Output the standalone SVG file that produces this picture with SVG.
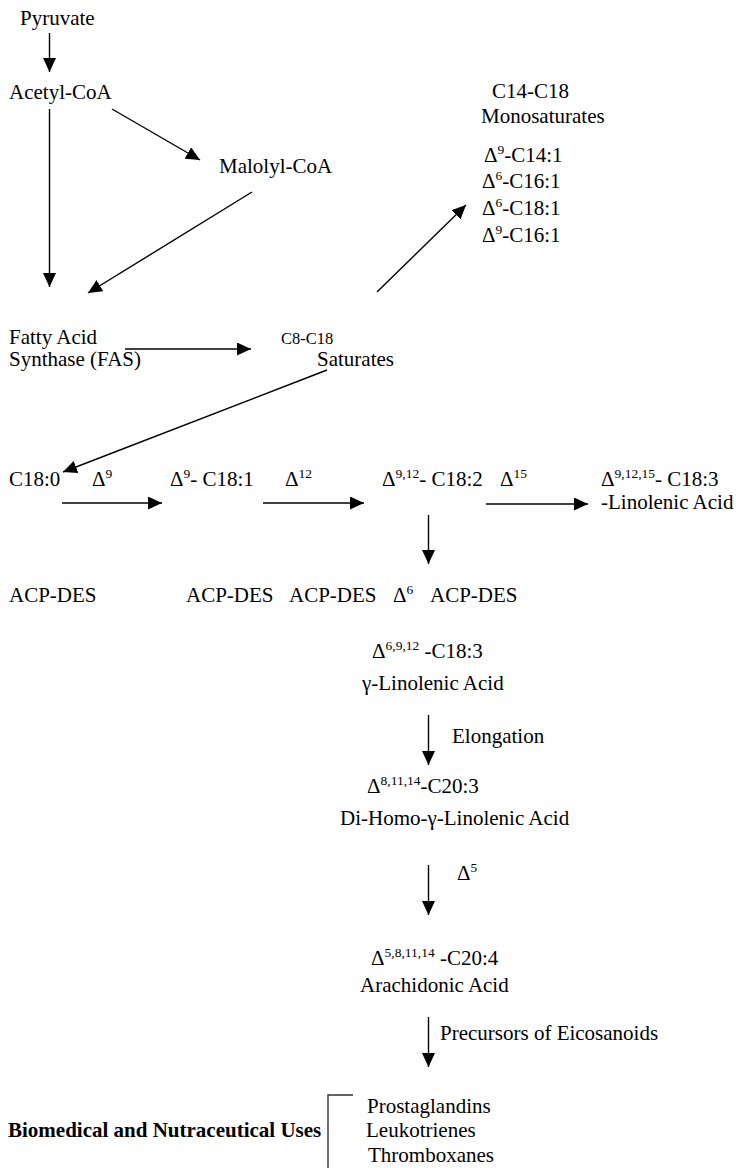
<svg xmlns="http://www.w3.org/2000/svg" width="736" height="1168" viewBox="0 0 736 1168">
<style>
text{font-family:'Liberation Serif','Times New Roman','DejaVu Serif',serif;font-size:21px;fill:#000}
.sm{font-size:16.5px}
.b{font-weight:bold}
.sup{font-size:13.5px}
.c line{stroke:#000;stroke-width:1.4;marker-end:url(#ah)}
.br{stroke:#333;stroke-width:1.4;fill:none}
</style>
<defs>
<marker id="ah" viewBox="0 0 14 13" refX="14" refY="6.5" markerWidth="14" markerHeight="13" markerUnits="userSpaceOnUse" orient="auto">
<path d="M0,0 L14,6.5 L0,13 z" fill="#000"/>
</marker>
</defs>
<rect width="736" height="1168" fill="#fff"/>
<g id="connectors" class="c">
<line x1="49.5" y1="33" x2="49.5" y2="72"/>
<line x1="112" y1="109" x2="200" y2="160"/>
<line x1="49.5" y1="109" x2="49.5" y2="287"/>
<line x1="252" y1="192" x2="88" y2="293"/>
<line x1="125" y1="349" x2="251" y2="349"/>
<line x1="377" y1="292" x2="466" y2="205"/>
<line x1="327" y1="370" x2="63" y2="472"/>
<line x1="62" y1="503" x2="162" y2="503"/>
<line x1="263" y1="503" x2="364" y2="503"/>
<line x1="486" y1="504" x2="588" y2="504"/>
<line x1="428.5" y1="515" x2="428.5" y2="564"/>
<line x1="428.5" y1="715" x2="428.5" y2="765"/>
<line x1="428.5" y1="865" x2="428.5" y2="915"/>
<line x1="428.5" y1="1017" x2="428.5" y2="1067"/>
</g>
<g font-family="Liberation Serif, serif">
<g id="pyruvate"><text x="20" y="25">Pyruvate</text></g>
<g id="acetyl-coa"><text x="9" y="99">Acetyl-CoA</text></g>
<g id="malolyl-coa"><text x="219" y="173">Malolyl-CoA</text></g>
<g id="monosaturates">
<text x="492" y="98">C14-C18</text>
<text x="481" y="123">Monosaturates</text>
<text x="484" y="162">Δ<tspan class="sup" dy="-8">9</tspan><tspan dy="8">-C14:1</tspan></text>
<text x="482" y="188">Δ<tspan class="sup" dy="-8">6</tspan><tspan dy="8">-C16:1</tspan></text>
<text x="482" y="215">Δ<tspan class="sup" dy="-8">6</tspan><tspan dy="8">-C18:1</tspan></text>
<text x="482" y="242">Δ<tspan class="sup" dy="-8">9</tspan><tspan dy="8">-C16:1</tspan></text>
</g>
<g id="fas">
<text x="9" y="344">Fatty Acid</text>
<text x="9" y="366">Synthase (FAS)</text>
</g>
<g id="saturates">
<text class="sm" x="281" y="344">C8-C18</text>
<text x="317" y="366">Saturates</text>
</g>
<g id="c18-0"><text x="9" y="486">C18:0</text></g>
<g id="d9-label"><text x="92" y="486">Δ<tspan class="sup" dy="-8">9</tspan></text></g>
<g id="c18-1"><text x="170" y="486">Δ<tspan class="sup" dy="-8">9</tspan><tspan dy="8">- C18:1</tspan></text></g>
<g id="d12-label"><text x="285" y="486">Δ<tspan class="sup" dy="-8">12</tspan></text></g>
<g id="c18-2"><text x="382" y="486">Δ<tspan class="sup" dy="-8">9,12</tspan><tspan dy="8">- C18:2</tspan></text></g>
<g id="d15-label"><text x="500" y="486">Δ<tspan class="sup" dy="-8">15</tspan></text></g>
<g id="c18-3">
<text x="601" y="486">Δ<tspan class="sup" dy="-8">9,12,15</tspan><tspan dy="8">- C18:3</tspan></text>
<text x="601" y="509">-Linolenic Acid</text>
</g>
<g id="acp-des">
<text x="9" y="602">ACP-DES</text>
<text x="186" y="602">ACP-DES</text>
<text x="289" y="602">ACP-DES</text>
<text x="393" y="602">Δ<tspan class="sup" dy="-8">6</tspan></text>
<text x="430" y="602">ACP-DES</text>
</g>
<g id="gla">
<text x="372" y="658">Δ<tspan class="sup" dy="-8">6,9,12</tspan><tspan dy="8"> -C18:3</tspan></text>
<text x="362" y="690">γ-Linolenic Acid</text>
</g>
<g id="elongation-label"><text x="452" y="743">Elongation</text></g>
<g id="dgla">
<text x="367" y="793">Δ<tspan class="sup" dy="-8">8,11,14</tspan><tspan dy="8">-C20:3</tspan></text>
<text x="340" y="825">Di-Homo-γ-Linolenic Acid</text>
</g>
<g id="d5-label"><text x="457" y="880">Δ<tspan class="sup" dy="-8">5</tspan></text></g>
<g id="aa">
<text x="371" y="965">Δ<tspan class="sup" dy="-8">5,8,11,14</tspan><tspan dy="8"> -C20:4</tspan></text>
<text x="360" y="992">Arachidonic Acid</text>
</g>
<g id="precursors-label"><text x="440" y="1040">Precursors of Eicosanoids</text></g>
<g id="uses">
<text class="b" x="8" y="1137">Biomedical and Nutraceutical Uses</text>
<path class="br" d="M353,1095 H328 V1168"/>
<text x="367" y="1113">Prostaglandins</text>
<text x="366" y="1137">Leukotrienes</text>
<text x="368" y="1162">Thromboxanes</text>
</g>
</g>
</svg>
